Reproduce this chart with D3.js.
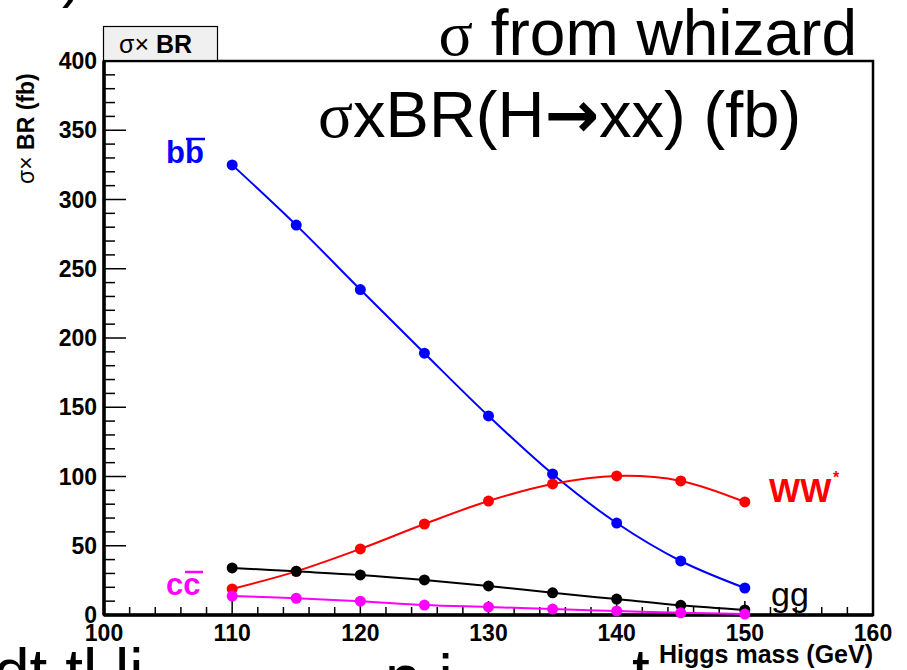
<!DOCTYPE html>
<html><head><meta charset="utf-8">
<script src="https://cdn.jsdelivr.net/npm/d3@7"></script>
<style>
body{margin:0;background:#fff;}
svg{display:block;font-family:"Liberation Sans",Arial,Helvetica,sans-serif;}
</style></head>
<body>
<svg id="c" width="907" height="670"></svg>
<script>
// ---- data ----
const masses = [110,115,120,125,130,135,140,145,150];
const bb = [325,281.5,235,189,143.7,101.8,66.4,39,19.5];
const ww = [18.8,31.5,47.7,65.7,82.3,94.6,100.4,96.8,81.6];
const gg = [34,31.5,28.9,25.3,21,16,11.5,7,3.6];
const cc = [13.7,12.1,10,7.2,5.8,4.3,2.9,1.6,0.7];
const xTicks = [100,110,120,130,140,150,160];
const yTicks = [0,50,100,150,200,250,300,350,400];
const seriesNames = ["bb","WW","gg","cc"];

const svg = d3.select("#c");
const m = {l:104, t:61, r:873, b:615};
const x = d3.scaleLinear().domain([100,160]).range([m.l, m.r]);
const y = d3.scaleLinear().domain([0,400]).range([m.b, m.t]);

// cut-off slide text at bottom (drawn first, behind)
svg.append("text").attr("x",-6).attr("y",694).attr("font-size",64).text("dt tl li");
svg.append("text").attr("x",385).attr("y",700).attr("font-size",64).text("n   i");
svg.append("text").attr("x",632).attr("y",694).attr("font-size",64).text("t   l");

// y axis ticks (inside)
const yMinor = d3.range(0,401,10);
svg.append("g").selectAll("line").data(yMinor).join("line")
  .attr("x1", m.l).attr("x2", d => m.l + (d%50===0 ? 22 : 11))
  .attr("y1", d=>y(d)).attr("y2", d=>y(d))
  .attr("stroke","#000").attr("stroke-width",1.5);
svg.append("g").selectAll("text").data(yTicks).join("text")
  .attr("x", 97).attr("y", d=>y(d)+8)
  .attr("text-anchor","end").attr("font-size",23).attr("font-weight","bold")
  .text(d=>d);

// x axis ticks (inside, upward)
const xMinor = d3.range(100,161,2);
svg.append("g").selectAll("line").data(xMinor).join("line")
  .attr("x1", d=>x(d)).attr("x2", d=>x(d))
  .attr("y1", m.b).attr("y2", d => m.b - (d%10===0 ? 14 : 8))
  .attr("stroke","#000").attr("stroke-width",1.5);
svg.append("g").selectAll("text").data(xTicks).join("text")
  .attr("x", d=>x(d)).attr("y", 641)
  .attr("text-anchor","middle").attr("font-size",23).attr("font-weight","bold")
  .text(d=>d);

// frame
svg.append("rect").attr("x",m.l).attr("y",m.t).attr("width",m.r-m.l).attr("height",m.b-m.t)
  .attr("fill","none").attr("stroke","#000").attr("stroke-width",2.5);
svg.append("line").attr("x1",m.l).attr("x2",m.l).attr("y1",m.t).attr("y2",m.b)
  .attr("stroke","#000").attr("stroke-width",3.5);
svg.append("line").attr("x1",m.l).attr("x2",m.r).attr("y1",m.b).attr("y2",m.b)
  .attr("stroke","#000").attr("stroke-width",3.5);

// series
const series = [
  {name:"bb", vals:bb, color:"#0000ff"},
  {name:"WW", vals:ww, color:"#ff0000"},
  {name:"gg", vals:gg, color:"#000000"},
  {name:"cc", vals:cc, color:"#ff00ff"}
];
const line = d3.line().x(d=>x(d[0])).y(d=>y(d[1])).curve(d3.curveCatmullRom.alpha(0.5));
series.forEach(s=>{
  const pts = masses.map((mm,i)=>[mm,s.vals[i]]);
  svg.append("path").attr("d",line(pts)).attr("fill","none")
    .attr("stroke",s.color).attr("stroke-width",2);
  svg.append("g").selectAll("circle").data(pts).join("circle")
    .attr("cx",d=>x(d[0])).attr("cy",d=>y(d[1])).attr("r",5.5).attr("fill",s.color);
});

// series labels
svg.append("text").attr("x",166).attr("y",163).attr("font-size",31)
  .attr("font-weight","bold").attr("fill","#0000ff").text("bb");
svg.append("line").attr("x1",186).attr("x2",205).attr("y1",139).attr("y2",139)
  .attr("stroke","#0000ff").attr("stroke-width",2.5);

svg.append("text").attr("x",166).attr("y",595).attr("font-size",31)
  .attr("font-weight","bold").attr("fill","#ff00ff").text("cc");
svg.append("line").attr("x1",185).attr("x2",203).attr("y1",572).attr("y2",572)
  .attr("stroke","#ff00ff").attr("stroke-width",2.5);

svg.append("text").attr("x",769).attr("y",502).attr("font-size",33)
  .attr("font-weight","bold").attr("fill","#ff0000").text("WW");
svg.append("text").attr("x",833).attr("y",483).attr("font-size",16)
  .attr("font-weight","bold").attr("fill","#ff0000").text("*");

svg.append("text").attr("x",771).attr("y",606).attr("font-size",34)
  .attr("fill","#000").text("gg");

// title box
svg.append("rect").attr("x",103.5).attr("y",26.5).attr("width",114).attr("height",34)
  .attr("fill","#f0f0f0").attr("stroke","#000").attr("stroke-width",1.2);
const tt = svg.append("text").attr("x",119).attr("y",53).attr("font-size",25);
tt.append("tspan").text("σ×");
tt.append("tspan").attr("font-weight","bold").text(" BR");

// axis titles
const yt = svg.append("text").attr("transform","translate(34,184) rotate(-90)")
  .attr("font-size",23);
yt.append("tspan").text("σ×");
yt.append("tspan").attr("font-weight","bold").text(" BR (fb)");

svg.append("rect").attr("x",655).attr("y",644).attr("width",220).attr("height",26).attr("fill","#fff");
svg.append("text").attr("x",873).attr("y",663).attr("text-anchor","end")
  .attr("font-size",25).attr("font-weight","bold").text("Higgs mass (GeV)");

// slide overlay texts
const t1 = svg.append("text").attr("x",857).attr("y",55).attr("text-anchor","end")
  .attr("font-size",64);
t1.append("tspan").attr("font-family","'Liberation Serif',serif").text("σ");
t1.append("tspan").text(" from whizard");

const t2 = svg.append("text").attr("x",318).attr("y",137).attr("font-size",65);
t2.append("tspan").attr("font-family","'Liberation Serif',serif").text("σ");
t2.append("tspan").text("xBR(H");
t2.append("tspan").attr("font-family","'DejaVu Sans',sans-serif").attr("font-weight","bold").text("→");
t2.append("tspan").text("xx) (fb)");

svg.append("text").attr("x",62).attr("y",-4).attr("font-size",60).text(")");
</script>
</body></html>
